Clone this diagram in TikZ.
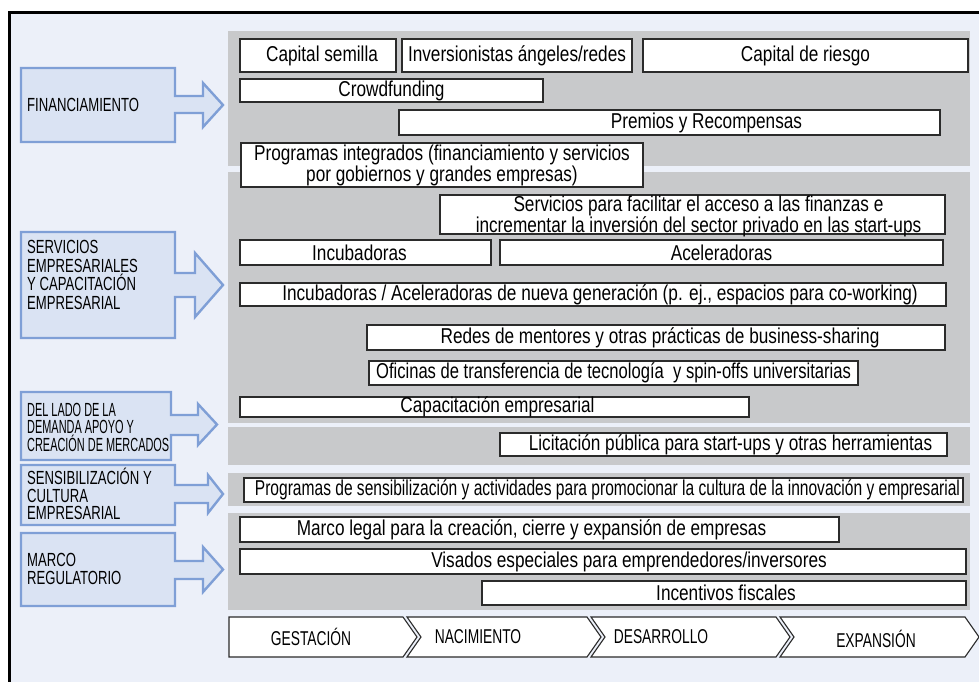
\documentclass[tikz,border=0pt]{standalone}
\usepackage{fontspec}
\usepackage{graphicx}
\setmainfont{Liberation Sans}[FakeStretch=0.80]
\newfontfamily\labfont{Liberation Sans}[FakeStretch=0.69]
\newfontfamily\narfont{Liberation Sans}[FakeStretch=0.575]
\definecolor{bgblue}{HTML}{ECF0F9}
\definecolor{bandgray}{HTML}{C8C9CB}
\definecolor{lblfill}{HTML}{DAE3F3}
\definecolor{lblline}{HTML}{7F9FD6}
\definecolor{boxline}{HTML}{2B2B2B}
\newcommand\wbox[7]{%
  \node[wbx, anchor=north west, minimum width=#4pt-#2pt, minimum height=#5pt-#3pt] (#1) at (#2,#3) {};
  \node[txt] (#1t) at ([xshift=#6pt]#1.center) {#7};}
\begin{document}
\begin{tikzpicture}[x=1pt,y=-1pt,
  wbx/.style={draw=boxline, line width=1.3pt, fill=white, inner sep=0pt, outer sep=0pt},
  txt/.style={font=\fontsize{21.5}{20}\selectfont, align=center, inner sep=0pt},
  lblarrow/.style={fill=lblfill, draw=lblline, line width=2.4pt, line join=miter},
  lbltxt/.style={font=\labfont\fontsize{19}{18.5}\selectfont, align=left, inner sep=0pt, anchor=west},
  phase/.style={fill=white, draw=boxline, line width=1.1pt, line join=miter},
  phasetxt/.style={font=\labfont\fontsize{20}{18}\selectfont, inner sep=0pt}]
\useasboundingbox (0,0) rectangle (979,682);
\clip (0,0) rectangle (979,682);
\fill[white] (0,0) rectangle (979,682);
\fill[bgblue] (9,13) rectangle (995,695);
\draw[line width=3pt] (9,700) -- (9,13) -- (995,13);
% bands
\fill[bandgray] (228,31) rectangle (970,166);
\fill[bandgray] (228,172) rectangle (970,423);
\fill[bandgray] (228,427) rectangle (970,465);
\fill[bandgray] (228,473) rectangle (970,506);
\fill[bandgray] (228,513) rectangle (970,610);
% left labels
\draw[lblarrow] (21,68) -- (175,68) -- (175,96) -- (203,96) -- (203,83) -- (223,105) -- (203,127) -- (203,113) -- (175,113) -- (175,142) -- (21,142) -- cycle;
\node[lbltxt] (lfin) at (27,105) {FINANCIAMIENTO};
\draw[lblarrow] (21,232) -- (175,232) -- (175,273) -- (195,273) -- (195,253) -- (223,285) -- (195,317) -- (195,297) -- (175,297) -- (175,338) -- (21,338) -- cycle;
\node[lbltxt] (lser) at (27,275) {SERVICIOS\\EMPRESARIALES\\Y CAPACITACIÓN\\EMPRESARIAL};
\draw[lblarrow] (21,392) -- (171,392) -- (171,415) -- (198,415) -- (198,404) -- (217,424.5) -- (198,445) -- (198,435) -- (171,435) -- (171,460) -- (21,460) -- cycle;
\node[lbltxt, font=\narfont\fontsize{19}{17.5}\selectfont] (ldem) at (27,427) {DEL LADO DE LA\\DEMANDA APOYO Y\\CREACIÓN DE MERCADOS};
\draw[lblarrow] (21,465) -- (175,465) -- (175,485) -- (208,485) -- (208,475) -- (223,494) -- (208,513) -- (208,503) -- (175,503) -- (175,525) -- (21,525) -- cycle;
\node[lbltxt, font=\labfont\fontsize{19}{17.5}\selectfont] (lsen) at (27,494) {SENSIBILIZACIÓN Y\\CULTURA\\EMPRESARIAL};
\draw[lblarrow] (21,533) -- (175,533) -- (175,561) -- (203,561) -- (203,547) -- (223,569.5) -- (203,592) -- (203,579) -- (175,579) -- (175,606) -- (21,606) -- cycle;
\node[lbltxt] (lmar) at (27,569) {MARCO\\REGULATORIO};
% white boxes
\wbox{cs}{240}{39}{396}{72}{4}{Capital semilla}
\wbox{ia}{402}{39}{632}{72}{0}{Inversionistas ángeles/redes}
\wbox{cr}{643}{39}{968}{72}{0}{Capital de riesgo}
\wbox{cf}{240}{79}{543}{102}{0}{Crowdfunding}
\wbox{pr}{399}{110}{940}{135}{37}{Premios y Recompensas}
\wbox{pi}{241}{143}{643}{187}{0}{Programas integrados (financiamiento y servicios\\por gobiernos y grandes empresas)}
\wbox{sf}{440}{195}{945}{234}{6pt,yshift=-2}{\fontsize{21.5}{16}\selectfont Servicios para facilitar el acceso a las finanzas e\\incrementar la inversión del sector privado en las start-ups}
\wbox{inc}{240}{240}{491}{265}{-6}{Incubadoras}
\wbox{ace}{500}{240}{943}{265}{0}{Aceleradoras}
\wbox{ian}{240}{283}{946}{306}{7}{Incubadoras / Aceleradoras de nueva generación (p. ej., espacios para co-working)}
\wbox{rm}{367}{325}{945}{350}{4}{Redes de mentores y otras prácticas de business-sharing}
\wbox{of}{369}{361}{858}{385}{0}{\scalebox{0.965}[1]{Oficinas de transferencia de tecnología\ \ y spin-offs universitarias}}
\wbox{ce}{240}{397}{749}{417}{3}{Capacitación empresarial}
\wbox{lp}{500}{433}{947}{456}{7}{Licitación pública para start-ups y otras herramientas}
\wbox{ps}{244}{478}{963}{502}{4}{\scalebox{0.905}[1]{Programas de sensibilización y actividades para promocionar la cultura de la innovación y empresarial}}
\wbox{ml}{240}{517}{839}{542}{-8}{Marco legal para la creación, cierre y expansión de empresas}
\wbox{ve}{240}{549}{966}{574}{26}{Visados especiales para emprendedores/inversores}
\wbox{if}{482}{581}{966}{605}{2}{Incentivos fiscales}
% phases
\draw[phase] (229,617) -- (403,617) -- (417,637) -- (403,657) -- (229,657) -- cycle;
\draw[phase] (407,617) -- (587,617) -- (601,637) -- (587,657) -- (407,657) -- (421,637) -- cycle;
\draw[phase] (591,617) -- (776,617) -- (790,637) -- (776,657) -- (591,657) -- (605,637) -- cycle;
\draw[phase] (780,617) -- (965,617) -- (979,637) -- (965,657) -- (780,657) -- (794,637) -- cycle;
\node[phasetxt] (ph1) at (311,637) {GESTACIÓN};
\node[phasetxt] (ph2) at (478,637) {NACIMIENTO};
\node[phasetxt] (ph3) at (661,637) {DESARROLLO};
\node[phasetxt] (ph4) at (876,639) {EXPANSIÓN};
\end{tikzpicture}
\end{document}
